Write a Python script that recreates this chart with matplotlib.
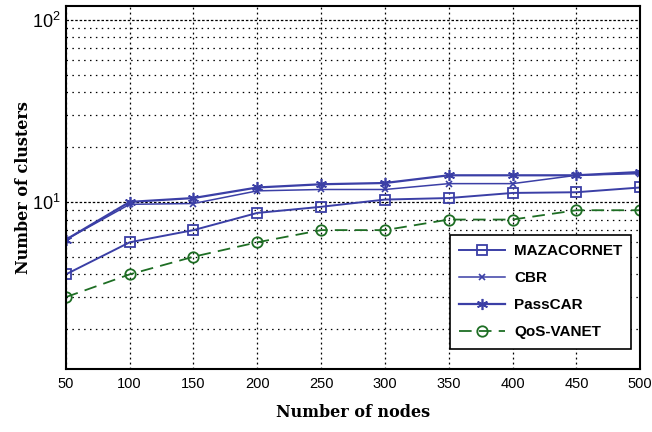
import matplotlib
matplotlib.use("Agg")
import matplotlib.pyplot as plt
from matplotlib.ticker import LogLocator, NullFormatter, FixedLocator

# Cluster counts versus network size
nodes = [50, 100, 150, 200, 250, 300, 350, 400, 450, 500]
mazacornet = [4.0, 6.0, 7.0, 8.7, 9.4, 10.3, 10.5, 11.2, 11.3, 12.0]
cbr = [6.2, 9.7, 9.8, 11.5, 11.7, 11.7, 12.6, 12.6, 14.0, 14.3]
passcar = [6.2, 10.0, 10.5, 12.0, 12.5, 12.7, 14.0, 14.0, 14.0, 14.6]
qos_vanet = [3.0, 4.0, 5.0, 6.0, 7.0, 7.0, 8.0, 8.0, 9.0, 9.0]

blue = '#3b3fa6'
green = '#1e6e24'

fig = plt.figure(figsize=(6.52, 4.32), dpi=100)
ax = fig.add_axes([0.101, 0.146, 0.881, 0.840])

ax.plot(nodes, mazacornet, color=blue, lw=1.4, marker='s', ms=7.5,
        mfc='none', mec=blue, mew=1.3, label='MAZACORNET')
ax.plot(nodes, cbr, color=blue, lw=1.1, marker='x', ms=5,
        mec=blue, mew=1.2, label='CBR')
ax.plot(nodes, passcar, color=blue, lw=1.6, marker=(6, 2, 0), ms=8,
        mec=blue, mew=1.2, label='PassCAR')
ax.plot(nodes, qos_vanet, color=green, lw=1.3, ls=(0, (7, 4)), marker='o',
        ms=7.5, mfc='none', mec=green, mew=1.3, label='QoS-VANET')

ax.set_yscale('log')
ax.set_xlim(50, 500)
ax.set_ylim(1.21, 119)
ax.xaxis.set_major_locator(FixedLocator(nodes))
ax.yaxis.set_major_locator(LogLocator(base=10, numticks=5))
ax.yaxis.set_minor_locator(LogLocator(base=10, subs=range(2, 10), numticks=20))
ax.yaxis.set_minor_formatter(NullFormatter())

ax.grid(True, which='major', axis='x', color='black', ls=(0, (1.5, 2.5)), lw=0.9)
ax.grid(True, which='major', axis='y', color='black', ls=(0, (2, 1.5)), lw=0.9)
ax.grid(True, which='minor', axis='y', color='black', ls=(0, (1.2, 3.5)), lw=0.9)
ax.tick_params(which='both', direction='in', length=0)
ax.tick_params(axis='x', labelsize=10.5, pad=6)
ax.tick_params(axis='y', labelsize=13, pad=4)
for lab in ax.get_xticklabels() + ax.get_yticklabels():
    lab.set_family('Liberation Sans')

for sp in ax.spines.values():
    sp.set_linewidth(1.5)

ax.set_xlabel('Number of nodes', family='DejaVu Serif', fontweight='bold',
              fontsize=11.5, labelpad=9)
ax.set_ylabel('Number of clusters', family='DejaVu Serif', fontweight='bold',
              fontsize=11.5, labelpad=0)

leg = ax.legend(loc='lower right', bbox_to_anchor=(0.998, 0.035), fancybox=False,
                edgecolor='black', framealpha=1, handlelength=3.0,
                handletextpad=0.6, labelspacing=0.85, borderpad=0.6,
                prop={'family': 'Liberation Sans', 'weight': 'bold', 'size': 11})
leg.get_frame().set_linewidth(1.2)

fig.savefig('out.png', dpi=100)
